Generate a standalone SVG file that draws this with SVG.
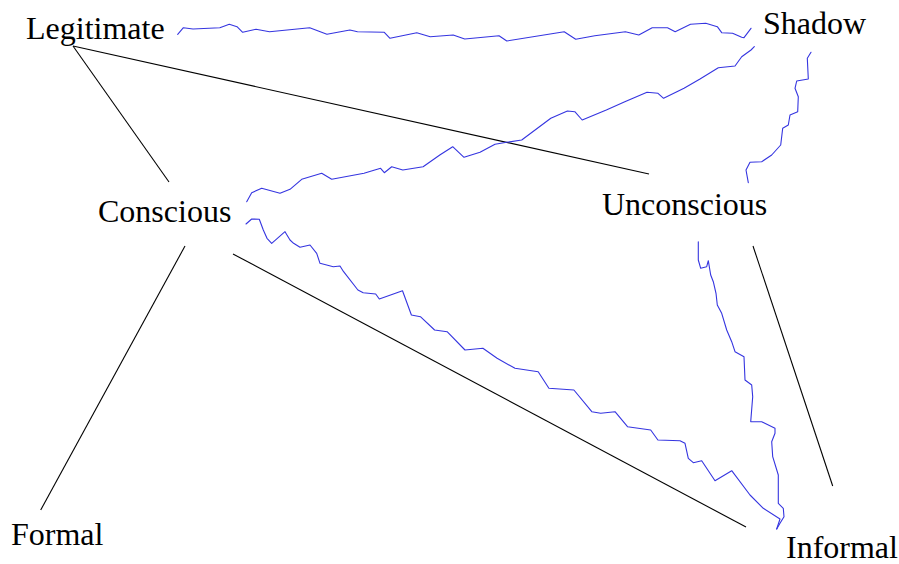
<svg xmlns="http://www.w3.org/2000/svg" width="899" height="564" viewBox="0 0 899 564">
<style>
.lbl{font-family:"Liberation Serif","Times New Roman",serif;font-size:32px;fill:#000}
.ln{stroke:#000;stroke-width:1.1;fill:none}
.wv{stroke:#3535e0;stroke-width:1.1;fill:none;stroke-linejoin:round;stroke-linecap:round}
</style>
<rect width="899" height="564" fill="#fff"/>
<g id="connectors">
<line class="ln" x1="73" y1="46" x2="169" y2="182"/>
<line class="ln" x1="73" y1="46" x2="649" y2="174"/>
<line class="ln" x1="185" y1="246" x2="40.7" y2="510"/>
<line class="ln" x1="233" y1="254" x2="746" y2="527"/>
<line class="ln" x1="753" y1="246" x2="832.7" y2="486"/>
<polyline class="wv" points="177.7,34.3 183.4,27.7 193,29 219.8,27.7 229.3,24.3 237,26.7 242.7,32.3 256,29.3 269.5,31.7 309.7,27.7 326.9,34.3 349.9,30 357.5,31.7 384.3,32.3 390,38.3 416.8,32.7 430.2,36.7 453.2,35 464.7,39 499,35.7 506.8,41 564.2,31.7 575.7,39.3 594.8,35.7 625.4,31.7 638.8,35 652.2,27.7 667.5,27.7 675.2,31.7 690.5,24.3 705.8,23.3 717.3,26.7 721.7,32.7 732.6,33.3 741.7,37.3 744,37.7 751,28.3"/>
<polyline class="wv" points="246.7,201.7 251.7,192.7 261.7,188.3 280,193.3 290,189.3 301.7,179.3 321.7,173.3 331.7,179.3 364,173.3 380.6,168.3 384.3,172.7 391.7,166.7 402.8,170 423.1,166.7 439.8,155 452.7,146.7 464,157.3 480,152.3 495,144.3 506.7,142.3 521.7,140 550.8,118.3 567.4,111 574.8,111.7 582.2,120 606.3,110 624.8,101.7 647,92.3 658,93.3 663.6,98.3 684,88.3 700,79 718.3,67.7 735,66 741.7,56.7 751,50 754.3,46.7"/>
<polyline class="wv" points="811,52.3 807.3,58.3 808.3,79 796.7,81 795,88.3 798.3,96.7 797.7,111.7 790,115 788.3,125 782.7,128.3 780.7,145 771.7,155 761.7,161.7 750,162.3 746,170 748.3,182.7"/>
<polyline class="wv" points="246,224 251.7,219 259.3,219.3 263.3,230 267,238.3 271.7,243.3 285,231.7 290,240 293.6,243.3 300,247.3 310,245 316.7,253.3 320,263.3 333.3,266.7 340,266 343.6,271.7 357.9,290 363.2,292.7 375.7,294 379.3,299 402.5,290.7 411.4,315 420.4,316.7 434.6,330 447.1,331.7 465,350 482.9,348.3 497.1,358.3 515,368.3 538.2,371.7 548.9,388.3 573.9,390 591.8,411.7 600.7,413.3 615,411.7 627.5,426.7 650.7,430 657.9,440 680,440.7 685,443.3 688.3,458.3 693.3,462.7 701.7,460.7 715,480.7 731.7,470.7 750,495 763.3,508.3 780,519 776.7,529"/>
<polyline class="wv" points="698.3,241.7 698.3,260 700.7,268.3 706.7,266.7 708.3,260.7 710.7,275 713.3,281.7 716,293.3 717.3,305 721.7,313.3 726.7,330 731.7,341.7 735,351.7 744,356.7 745,380 751.7,385 752.7,396.7 750.7,421.7 761.7,421.7 775,428.3 775,433.3 771.7,441.7 772.7,456.7 778.3,475 778.3,503.3 783.3,508.3 784,516.7 780,523.3 776.7,529"/>
</g>
<g id="legitimate"><text class="lbl" x="26" y="39">Legitimate</text></g>
<g id="shadow"><text class="lbl" x="763" y="34">Shadow</text></g>
<g id="conscious"><text class="lbl" x="98" y="222">Conscious</text></g>
<g id="unconscious"><text class="lbl" x="602" y="215">Unconscious</text></g>
<g id="formal"><text class="lbl" x="11" y="545">Formal</text></g>
<g id="informal"><text class="lbl" x="786" y="558">Informal</text></g>
</svg>
